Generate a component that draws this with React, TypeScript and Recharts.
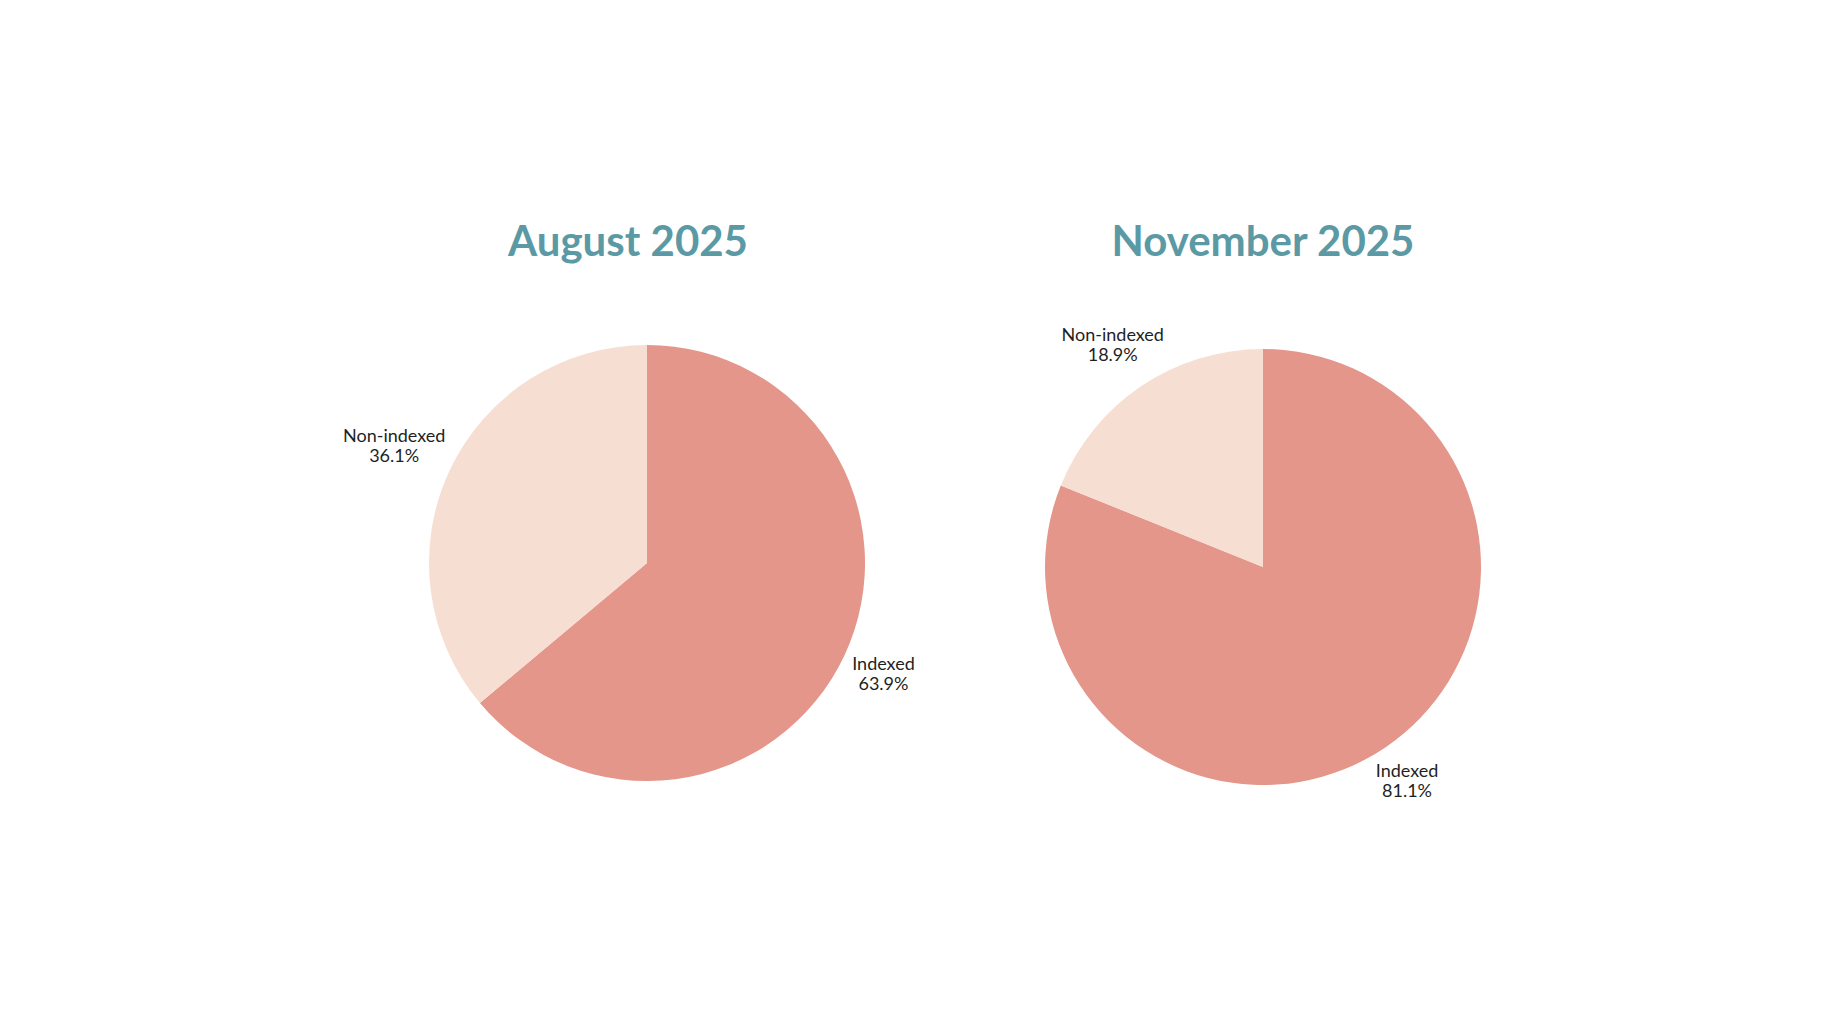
import React from "react";
import { PieChart, Pie, Cell } from "recharts";

const categories = ["Indexed", "Non-indexed"];
const augustValues = [63.9, 36.1];
const novemberValues = [81.1, 18.9];
const titles = ["August 2025", "November 2025"];
const colors = ["#e5968a", "#f6dfd2"];

const FONT = "Lato, 'Noto Sans', sans-serif";
const LABEL_SIZE = 18;
const LINE_GAP = 20;

let ctx: CanvasRenderingContext2D | null = null;
function measure(text: string): number {
  if (!ctx) {
    const c = document.createElement("canvas");
    ctx = c.getContext("2d");
  }
  if (!ctx) return text.length * LABEL_SIZE * 0.52;
  ctx.font = `${LABEL_SIZE}px ${FONT}`;
  return ctx.measureText(text).width;
}

const renderLabel = (props: any) => {
  const { cx, cy, midAngle, outerRadius, payload } = props;
  const l1 = payload.name as string;
  const l2 = `${payload.value.toFixed(1)}%`;
  const hw = Math.max(measure(l1), measure(l2)) / 2;
  const hh = 18;
  const rad = (midAngle * Math.PI) / 180;
  const c = Math.cos(rad);
  const s = Math.sin(rad);
  const r = outerRadius + 7 + hw * Math.abs(c) + hh * Math.abs(s);
  const x = cx + r * c;
  const y = cy - r * s;
  return (
    <text
      x={x}
      y={y}
      textAnchor="middle"
      fill="#1f1f1f"
      style={{ fontFamily: FONT, fontSize: LABEL_SIZE }}
    >
      <tspan x={x} y={y - LINE_GAP / 2} dominantBaseline="central">
        {l1}
      </tspan>
      <tspan x={x} y={y + LINE_GAP / 2} dominantBaseline="central">
        {l2}
      </tspan>
    </text>
  );
};

function Title({ text, centerX, centerY }: { text: string; centerX: number; centerY: number }) {
  return (
    <div
      style={{
        position: "absolute",
        left: centerX - 300,
        top: centerY - 25,
        width: 600,
        height: 50,
        textAlign: "center",
        fontFamily: FONT,
        fontWeight: 700,
        fontSize: 42,
        color: "#5b9aa5",
        lineHeight: "50px",
        whiteSpace: "nowrap",
      }}
    >
      {text}
    </div>
  );
}

function OnePie({ values, left, top }: { values: number[]; left: number; top: number }) {
  const data = categories.map((name, i) => ({ name, value: values[i] }));
  return (
    <div style={{ position: "absolute", left, top, width: 600, height: 600 }}>
      <PieChart width={600} height={600}>
        <Pie
          data={data}
          dataKey="value"
          nameKey="name"
          cx={300}
          cy={300}
          outerRadius={218}
          startAngle={90}
          endAngle={-270}
          stroke="none"
          label={renderLabel}
          labelLine={false}
          isAnimationActive={false}
        >
          {data.map((d, i) => (
            <Cell key={d.name} fill={colors[i]} />
          ))}
        </Pie>
      </PieChart>
    </div>
  );
}

export default function App() {
  return (
    <div style={{ position: "absolute", left: 0, top: 0, width: 1822, height: 1024, background: "#ffffff", overflow: "hidden" }}>
      <Title text={titles[0]} centerX={628} centerY={240} />
      <Title text={titles[1]} centerX={1263} centerY={240} />
      <OnePie values={augustValues} left={342} top={258} />
      <OnePie values={novemberValues} left={958} top={262} />
    </div>
  );
}
